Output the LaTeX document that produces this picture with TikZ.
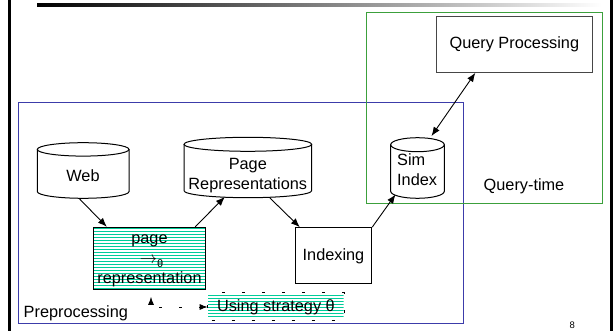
\documentclass[tikz,border=0pt]{standalone}
\usepackage{fontspec}
\setmainfont{Liberation Sans}
\usetikzlibrary{arrows.meta,calc}

\definecolor{hatch}{RGB}{0,204,153}
\definecolor{qtgreen}{RGB}{60,160,60}
\definecolor{ppblue}{RGB}{60,60,170}
\definecolor{qpgrey}{RGB}{70,70,70}

% database cylinder: name, left, top, right, bottom, ellipse half-height
\newcommand{\dbcyl}[6]{%
  \draw[box] ({(#2+#4)/2},{#3+#6}) ellipse[x radius={(#4-#2)/2}, y radius=#6];
  \draw[box] (#2,{#3+#6}) -- (#2,{#5-#6})
    arc[start angle=180, end angle=0, x radius={(#4-#2)/2}, y radius=#6]
    -- (#4,{#3+#6});
  \node[inner sep=0pt, minimum width={(#4-#2)*1pt}, minimum height={(#5-#3)*1pt}]
    (#1) at ({(#2+#4)/2},{(#3+#5)/2}) {};
}

\tikzset{
  box/.style={draw=black, line width=1pt},
  procbox/.style={box, inner sep=0pt},
  hatchline/.style={hatch, line width=1.3pt},
  hatched/.style n args={2}{path picture={
    \foreach \k in {0,...,#2}
      \draw[hatchline]
        ([yshift={-#1pt-3pt*\k}]path picture bounding box.north west) --
        ([yshift={-#1pt-3pt*\k}]path picture bounding box.north east);}},
  conn/.style={line width=0.9pt, -{Latex[length=9pt,width=7pt]}},
  biconn/.style={line width=0.9pt, {Latex[length=9pt,width=7pt]}-{Latex[length=9pt,width=7pt]}},
  dashconn/.style={line width=0.9pt, dash pattern=on 3pt off 17pt, dash phase=9pt,
    {Latex[length=8pt,width=6pt]}-{Latex[length=8pt,width=6pt]}},
  txt/.style={inner sep=0pt, align=center}
}

\begin{document}
\begin{tikzpicture}[x=1pt, y=-1pt, font=\fontsize{16.3}{20}\selectfont]
\useasboundingbox (0,0) rectangle (614,331);

% slide frame and title rule
\fill[black] (8.3,0) rectangle (10.8,331);
\fill[black] (610.3,0) rectangle (612.8,331);
\shade[left color=black, right color=white] (37,4) rectangle (602,6.3);

% region frames
\draw[ppblue, line width=1pt] (18.5,102.7) rectangle (463,323.8);
\draw[qtgreen, line width=1.4pt] (366.3,12.3) rectangle (602.7,203.7);

% data stores
\dbcyl{web}{37.3}{142.7}{129}{198.3}{6.7}
\dbcyl{prep}{184}{137.3}{311.7}{197.7}{7}
\dbcyl{sim}{390.7}{137.7}{444.3}{198.3}{7}
\node[txt] at (83,176) {Web};
\node[txt] at (247.8,176) {Page\\Representations};
\node[anchor=west, inner sep=2pt, align=left] at (395,169.3) {Sim\\Index};

% processing steps
\node[procbox, draw=qpgrey, minimum width=156.7pt, minimum height=55.6pt]
  (qp) at (514.35,44.5) {Query Processing};
\node[procbox, minimum width=76.4pt, minimum height=56.3pt]
  (idx) at (333.5,255.85) {Indexing};
\node[procbox, hatched={1.5}{21}, minimum width=112.4pt, minimum height=62pt]
  (page) at (149.5,258.3) {};
\node[txt] at (149.5,260.7)
  {page\\\hspace*{4pt}$\rightarrow$\raisebox{-4pt}{\fontsize{11}{11}\selectfont θ}\\representation};
\node[procbox, draw=none, hatched={2}{7}, minimum width=135.4pt, minimum height=27pt]
  (using) at (275.9,307) {Using strategy θ};
\draw[line width=1pt, dash pattern=on 3pt off 17pt, dash phase=-12pt]
  (using.north west) rectangle (using.south east);

% labels
\node[txt] at (524,186) {Query-time};
\node[txt] at (75.8,313) {Preprocessing};
\node[txt, font=\fontsize{9.5}{11}\selectfont] at (572.3,325) {8};

% connectors
\draw[conn] ([xshift=-4pt]web.south) -- ([xshift=14pt]page.north west);
\draw[conn] ([xshift=-11pt]page.north east) -- ([xshift=-23pt,yshift=1pt]prep.south);
\draw[conn] ([xshift=22pt]prep.south) -- ([xshift=5pt]idx.north west);
\draw[conn] (idx.north east) -- ([xshift=-22pt,yshift=4pt]sim.south);
\draw[biconn] ([xshift=14pt,yshift=1.5pt]sim.north) -- ([xshift=-39pt]qp.south);
\draw[dashconn] ([xshift=1.5pt,yshift=-7pt]page.south) |- (using.west);
\end{tikzpicture}
\end{document}
